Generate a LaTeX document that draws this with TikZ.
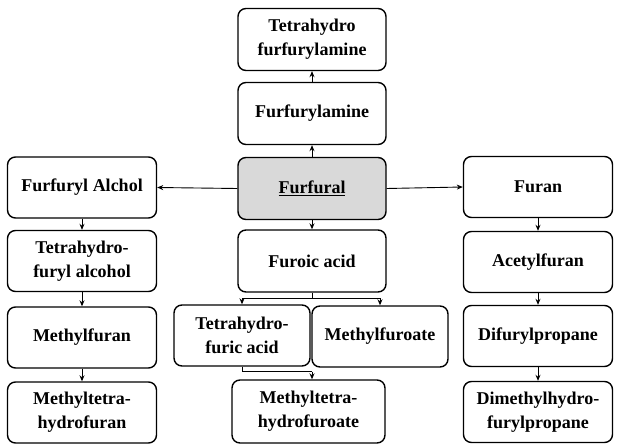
\documentclass[tikz,border=0pt]{standalone}
\usepackage{fontspec}
\setmainfont{Liberation Serif}
\usetikzlibrary{arrows.meta}

\begin{document}
\begin{tikzpicture}[
        x=1pt, y=-1pt,
        box/.style  = {draw, rounded corners=8pt, line width=1.4pt, align=center,
                inner sep=0pt, font=\bfseries\fontsize{18}{24}\selectfont},
        col/.style  = {box, minimum width=149pt, minimum height=61pt},
        mid/.style  = {box, minimum width=148pt, minimum height=62pt},
        link/.style = {-{Stealth[length=6pt,width=5pt]}, line width=0.9pt}
    ]
    \useasboundingbox (0,0) rectangle (618,446);

    % centre column
    \node[mid] (thfamine) at (312,39.5) {Tetrahydro\\furfurylamine};
    \node[mid] (amine) at (312,113.5) {Furfurylamine};
    \node[mid, fill=gray!30] (furfural) at (312,188.5) {\underline{Furfural}};
    \node[mid] (furoic) at (312,261) {Furoic acid};
    \node[box, minimum width=136pt, minimum height=61pt] (thfacid) at (242,335.5) {Tetrahydro-\\furic acid};
    \node[box, minimum width=136pt, minimum height=61pt] (furoate) at (380,336.5) {Methylfuroate};
    \node[box, minimum width=153pt, minimum height=63pt] (mthfuroate) at (308.5,411.5) {Methyltetra-\\hydrofuroate};

    % left column
    \node[col] (alcohol) at (82,187.5) {Furfuryl Alchol};
    \node[col] (thfalcohol) at (82,261) {Tetrahydro-\\furyl alcohol};
    \node[col] (mfuran) at (82,337.5) {Methylfuran};
    \node[col] (mthfuran) at (82,412.5) {Methyltetra-\\hydrofuran};

    % right column
    \node[col] (furan) at (538,187) {Furan};
    \node[col] (acetyl) at (538,262) {Acetylfuran};
    \node[col] (difuryl) at (538,336) {Difurylpropane};
    \node[col] (dimethyl) at (538,412) {Dimethylhydro-\\furylpropane};

    \draw[link] (furfural.north) -- (amine.south);
    \draw[link] (amine.north) -- (thfamine.south);
    \draw[link] (furfural.south) -- (furoic.north);
    \draw[link] (furfural.west) -- (alcohol.east);
    \draw[link] (furfural.east) -- (furan.west);

    \draw[link] (alcohol.south) -- (thfalcohol.north);
    \draw[link] (thfalcohol.south) -- (mfuran.north);
    \draw[link] (mfuran.south) -- (mthfuran.north);

    \draw[link] (furan.south) -- (acetyl.north);
    \draw[link] (acetyl.south) -- (difuryl.north);
    \draw[link] (difuryl.south) -- (dimethyl.north);

    % furoic acid branches
    \coordinate (split) at (312,298.5);
    \draw[line width=0.9pt] (furoic.south) -- (split);
    \draw[link] (split) -| (thfacid.north);
    \draw[link] (split) -| (furoate.north);

    \coordinate (join) at (312,371.5);
    \draw[line width=0.9pt] (thfacid.south) |- (join);
    \draw[link] (join) -- (join |- mthfuroate.north);
\end{tikzpicture}
\end{document}
